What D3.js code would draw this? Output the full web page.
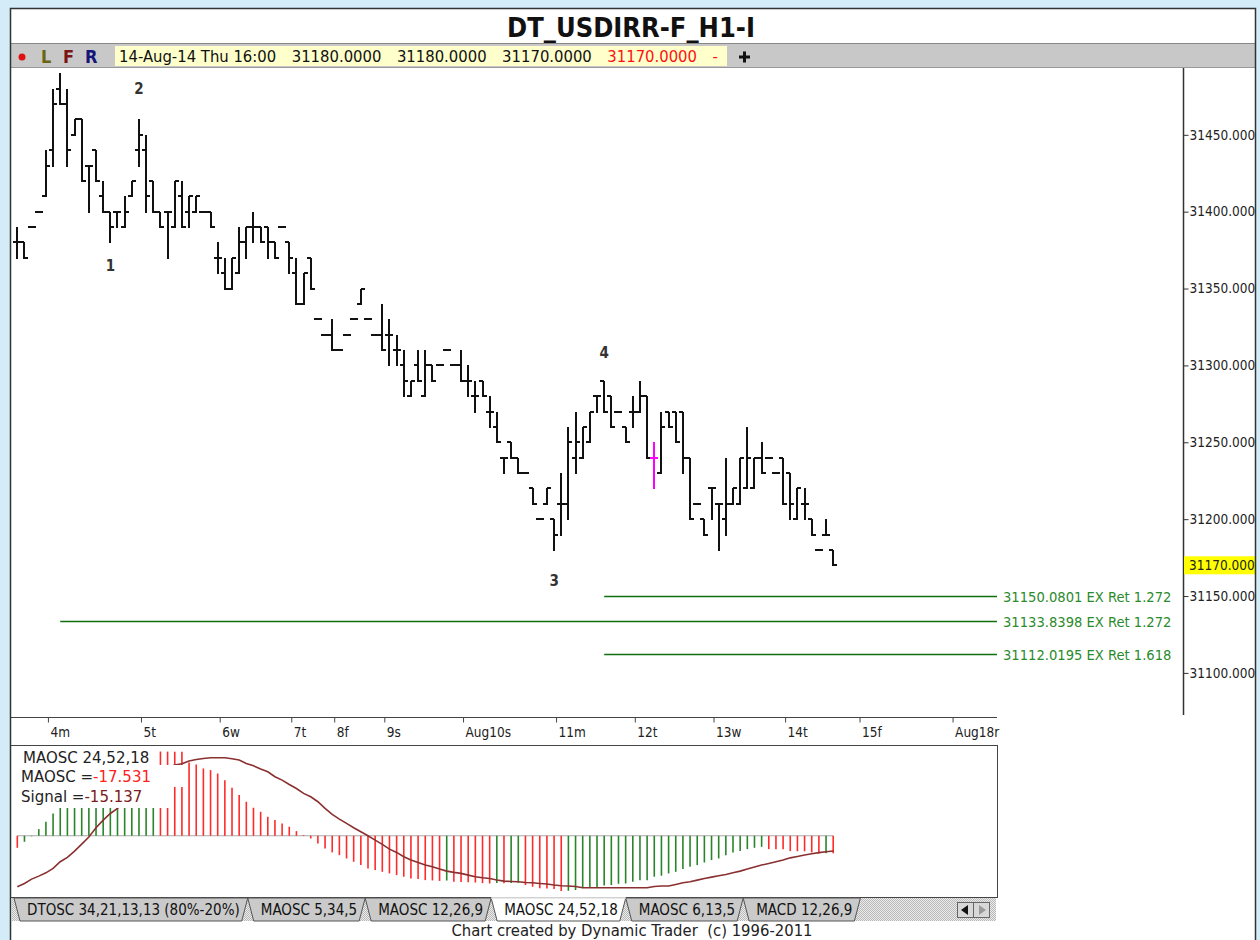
<!DOCTYPE html>
<html>
<head>
<meta charset="utf-8">
<script src="https://cdn.jsdelivr.net/npm/d3@7"></script>
<style>
  html, body { margin: 0; padding: 0; background: #d3ecf8; }
  svg { display: block; }
</style>
</head>
<body>
<div id="chart"></div>
<script>
// hourly bars, 4-Aug to 14-Aug (index = bar number)
const opens = [31380,31380,31390,31400,31410,31440,31480,31470,31450,31460,
  31430,31440,31410,31400,31400,31390,31410,31440,31440,31420,
  31400,31400,31390,31410,31400,31400,31400,31400,31370,31360,
  31350,31360,31380,31390,31390,31390,31380,31390,31380,31360,
  31340,31370,31330,31320,31320,31310,31320,31330,31340,31330,
  31320,31320,31320,31310,31300,31280,31300,31280,31300,31300,
  31310,31300,31300,31290,31280,31290,31270,31260,31240,31250,
  31240,31230,31220,31200,31210,31200,31210,31210,31240,31240,
  31250,31280,31290,31280,31270,31260,31270,31270,31280,31240,
  31230,31270,31270,31270,31240,31210,31200,31220,31210,31200,
  31210,31210,31220,31220,31240,31240,31230,31240,31230,31200,
  31210,31200,31180,31190,31180]
const highs = [31390,31380,31390,31400,31440,31480,31490,31480,31460,31460,
  31430,31440,31420,31400,31400,31410,31420,31460,31450,31420,
  31400,31400,31420,31420,31410,31410,31400,31400,31380,31370,
  31370,31390,31390,31400,31390,31390,31380,31390,31380,31370,
  31360,31370,31330,31320,31330,31310,31320,31330,31350,31330,
  31320,31340,31330,31320,31310,31290,31310,31310,31300,31300,
  31310,31300,31310,31300,31290,31290,31280,31270,31240,31250,
  31240,31230,31220,31200,31220,31200,31230,31260,31270,31260,
  31270,31280,31290,31280,31270,31260,31280,31290,31280,31250,
  31270,31270,31270,31270,31240,31210,31200,31220,31210,31240,
  31220,31240,31260,31240,31250,31240,31230,31240,31230,31220,
  31220,31200,31180,31200,31180]
const lows = [31370,31370,31390,31400,31410,31430,31470,31430,31450,31420,
  31400,31420,31400,31380,31390,31390,31410,31430,31400,31400,
  31390,31370,31390,31390,31390,31400,31400,31390,31360,31350,
  31350,31360,31370,31380,31380,31370,31370,31390,31360,31340,
  31340,31350,31330,31320,31310,31310,31320,31330,31340,31330,
  31320,31310,31300,31300,31280,31280,31290,31280,31290,31300,
  31310,31300,31290,31280,31270,31280,31260,31250,31230,31240,
  31230,31230,31210,31200,31210,31180,31190,31200,31230,31240,
  31250,31270,31270,31260,31270,31250,31260,31270,31240,31220,
  31230,31260,31250,31230,31200,31210,31190,31200,31180,31190,
  31210,31210,31220,31220,31230,31240,31230,31210,31200,31200,
  31200,31190,31180,31190,31170]
const closes = [31380,31370,31390,31400,31430,31470,31470,31440,31460,31420,
  31430,31420,31400,31390,31400,31400,31420,31450,31410,31400,
  31390,31400,31420,31390,31410,31410,31400,31390,31370,31350,
  31370,31380,31390,31390,31380,31380,31370,31390,31370,31340,
  31360,31350,31330,31320,31310,31310,31320,31330,31350,31330,
  31320,31310,31320,31310,31290,31290,31290,31300,31290,31300,
  31310,31300,31290,31290,31280,31280,31270,31250,31240,31240,
  31230,31230,31210,31200,31220,31190,31210,31250,31250,31260,
  31270,31280,31270,31260,31270,31250,31270,31280,31240,31240,
  31260,31260,31250,31240,31200,31210,31190,31220,31210,31210,
  31220,31240,31240,31240,31230,31240,31230,31210,31210,31220,
  31210,31190,31180,31190,31170]
const markedBar = 89

const maosc = [-12.0,-6.0,-0.5,6.6,13.9,22.2,30,35,40,45,
  50,55,60,64,68,72,75,78,81,84.2,
  83.9,83.8,83.7,83.6,73.0,71.0,67.0,65.4,62.0,55.4,
  47.8,40.5,33.9,27.9,23.9,18.9,15.6,12.3,9.0,4.6,
  0.7,-2.7,-7.6,-12.6,-16.6,-19.3,-22.6,-25.9,-29.2,-32.5,
  -34.2,-35.9,-37.5,-39.2,-40.8,-42.5,-43.0,-44.2,-44.5,-45.0,
  -44.6,-45.8,-46.0,-46.2,-46.6,-47.2,-47.5,-47.0,-47.3,-47.0,
  -46.8,-49.1,-50.8,-52.3,-52.6,-53.1,-55.1,-54.8,-54.1,-52.2,
  -52.0,-51.8,-49.5,-49.1,-47.8,-47.5,-45.8,-44.4,-44.2,-40.8,
  -39.8,-37.5,-35.9,-33.2,-30.9,-29.2,-26.6,-24.2,-22.6,-19.3,
  -16.6,-15.3,-13.3,-12.0,-11.0,-13.3,-13.4,-13.5,-15.3,-15.4,
  -15.5,-16.6,-17.6,-17.4,-17.531]
const signal = [-50.8,-47.5,-43.2,-40.2,-36.9,-32.5,-25.9,-21.6,-15.3,-8.3,
  -1.3,8.0,15.6,22.2,27.2,33.9,40.5,47.1,53.1,58.8,
  63.7,67.7,70.4,71.7,74.4,76.0,77.0,77.7,77.7,77.7,
  76.7,75.4,72.0,69.7,66.4,63.7,58.8,55.4,51.1,47.1,
  42.2,38.8,33.9,27.2,21.2,16.6,12.3,8.0,4.0,0,
  -4.3,-8.6,-13.3,-16.6,-20.9,-24.2,-26.6,-29.2,-30.9,-33.2,
  -35.2,-36.5,-37.5,-39.2,-40.8,-41.8,-42.5,-44.0,-45.2,-45.5,
  -45.8,-46.5,-46.8,-47.5,-48.1,-49.1,-49.8,-50.1,-50.5,-51.8,
  -51.8,-51.8,-51.8,-51.8,-51.8,-51.8,-51.8,-51.8,-51.8,-50.5,
  -50.1,-50.1,-48.5,-46.8,-45.8,-44.2,-42.5,-41.2,-39.8,-38.5,
  -36.9,-35.2,-33.2,-31.2,-29.2,-27.6,-25.9,-24.2,-22.0,-20.6,
  -19.2,-17.9,-16.8,-15.9,-15.137]

const priceTicks = [31100, 31150, 31200, 31250, 31300, 31350, 31400, 31450]
const dayTicks = [4, 17, 28, 38, 44, 51, 62, 75, 86, 97, 107, 117.4, 130.4]
const dayLabels = ["4m", "5t", "6w", "7t", "8f", "9s", "Aug10s", "11m", "12t", "13w", "14t", "15f", "Aug18r"]

const exLevels = [31150.0801, 31133.8398, 31112.0195]
const exRatios = ["1.272", "1.272", "1.618"]
const exFromBar = [82, 6, 82]

const waveNames = ["1", "2", "3", "4"]
const waveBars = [13, 17, 75, 82]
const wavePrices = [31365, 31480, 31160, 31308]

const tabNames = ["DTOSC 34,21,13,13 (80%-20%)", "MAOSC 5,34,5", "MAOSC 12,26,9", "MAOSC 24,52,18", "MAOSC 6,13,5", "MACD 12,26,9"]
const activeTab = 3

document.addEventListener("DOMContentLoaded", () => {
  const width = 1260, height = 940
  const COND = "'DejaVu Sans Condensed', 'DejaVu Sans', sans-serif"
  const winL = 10, winR = 1255, winT = 8
  const plotTop = 68, plotBottom = 715, axisX = 1183
  const timeY = 717, oscTop = 745, oscBottom = 897, oscRight = 997
  const exLineEnd = 997

  const svg = d3.select("#chart").append("svg")
                .attr("width", width)
                .attr("height", height)
                .style("font-family", COND)

  // frame
  svg.append("rect").attr("width", width).attr("height", height).attr("fill", "#d3ecf8")
  svg.append("rect").attr("x", winL).attr("y", winT).attr("width", winR - winL).attr("height", height - winT).attr("fill", "#fff")

  // toolbar
  svg.append("rect").attr("x", winL).attr("y", 43).attr("width", winR - winL).attr("height", 24).attr("fill", "#c8c8c8")
  svg.append("line").attr("x1", winL).attr("x2", winR).attr("y1", 43.5).attr("y2", 43.5).attr("stroke", "#888")
  svg.append("line").attr("x1", winL).attr("x2", winR).attr("y1", 67.5).attr("y2", 67.5).attr("stroke", "#999")
  svg.append("circle").attr("cx", 22).attr("cy", 57).attr("r", 3.5).attr("fill", "#e01010")
  const lfr = [["L", 41, "#6b6410"], ["F", 63, "#7a1515"], ["R", 85, "#15157a"]]
  lfr.forEach(([t, xx, col]) => {
    svg.append("text").attr("x", xx).attr("y", 63).attr("font-size", 18).attr("font-weight", "bold").attr("fill", col).text(t)
  })
  svg.append("rect").attr("x", 115).attr("y", 46).attr("width", 612).attr("height", 20).attr("fill", "#ffffcc")
  const last = opens.length - 1
  const quote = [
    ["14-Aug-14 Thu 16:00", "#111"],
    [opens[last].toFixed(4), "#111"],
    [highs[last].toFixed(4), "#111"],
    [lows[last].toFixed(4), "#111"],
    [closes[last].toFixed(4), "#ff1010"],
    ["-", "#ff1010"]
  ]
  let qx = 119
  quote.forEach(([t, col]) => {
    const tx = svg.append("text").attr("x", qx).attr("y", 62).attr("font-size", 16.5).attr("fill", col).text(t)
    qx += tx.node().getComputedTextLength() + 15.5
  })
  svg.append("rect").attr("x", 743).attr("y", 51.5).attr("width", 3).attr("height", 11).attr("fill", "#111")
  svg.append("rect").attr("x", 739).attr("y", 55.5).attr("width", 11).attr("height", 3).attr("fill", "#111")

  // title
  svg.append("text").attr("x", 631).attr("y", 36.5).attr("text-anchor", "middle")
     .attr("font-size", 27).attr("font-weight", "bold").attr("fill", "#111")
     .text("DT_USDIRR-F_H1-I")

  // scales
  const x = d3.scaleLinear().domain([0, opens.length - 1]).range([17.3, 833.2])
  const y = d3.scaleLinear().domain([31100, 31450]).range([672.9, 134.8])
  const oy = d3.scaleLinear().domain([-60, 90]).range([896, 745.4])

  // ex lines
  const exG = svg.append("g")
  exLevels.forEach((lv, k) => {
    const yy = Math.round(y(lv)) + 0.5
    exG.append("line").attr("x1", x(exFromBar[k])).attr("x2", exLineEnd).attr("y1", yy).attr("y2", yy)
       .attr("stroke", "#107010").attr("stroke-width", 1.6)
    exG.append("text").attr("x", exLineEnd + 6).attr("y", yy).attr("dy", "0.35em")
       .attr("font-size", 14.6).attr("fill", "#2b8a2b")
       .text(lv.toFixed(4) + " EX Ret " + exRatios[k])
  })

  // OHLC bars
  const bars = d3.range(opens.length).map(i => ({ i, o: opens[i], h: highs[i], l: lows[i], c: closes[i] }))
  const barG = svg.append("g").attr("shape-rendering", "crispEdges")
  barG.selectAll("g").data(bars).join("g")
      .each(function (d) {
        const g = d3.select(this)
        const col = d.i === markedBar ? "#ff00ff" : "#111"
        const cx = Math.round(x(d.i))
        const yh = Math.round(y(d.h)), yl = Math.round(y(d.l))
        if (yl > yh) g.append("rect").attr("x", cx - 1).attr("y", yh).attr("width", 2).attr("height", yl - yh + 1).attr("fill", col)
        g.append("rect").attr("x", cx - 4).attr("y", Math.round(y(d.o)) - 1).attr("width", 4).attr("height", 2).attr("fill", col)
        g.append("rect").attr("x", cx).attr("y", Math.round(y(d.c)) - 1).attr("width", 4).attr("height", 2).attr("fill", col)
      })

  // wave labels
  waveNames.forEach((n, k) => {
    svg.append("text").attr("x", x(waveBars[k])).attr("y", y(wavePrices[k])).attr("dy", "0.35em")
       .attr("text-anchor", "middle").attr("font-size", 15).attr("font-weight", "bold").attr("fill", "#333")
       .text(n)
  })

  // price axis
  svg.append("line").attr("x1", axisX + 0.5).attr("x2", axisX + 0.5).attr("y1", plotTop).attr("y2", plotBottom).attr("stroke", "#333").attr("stroke-width", 1.5)
  svg.append("clipPath").attr("id", "axclip").append("rect").attr("x", axisX).attr("y", plotTop).attr("width", winR - axisX).attr("height", plotBottom - plotTop)
  const gy = svg.append("g").attr("clip-path", "url(#axclip)").append("g")
                .attr("transform", "translate(" + (axisX + 0.5) + ",0)")
                .call(d3.axisRight(y).tickValues(priceTicks).tickFormat(d => d.toFixed(3)).tickSize(5).tickPadding(1))
  gy.select(".domain").remove()
  gy.selectAll("line").attr("stroke", "#333")
  gy.selectAll("text").attr("font-family", COND).attr("font-size", 13.5).attr("fill", "#222")
  const lastY = y(closes[last])
  const hl = svg.append("g").attr("clip-path", "url(#axclip)")
  hl.append("rect").attr("x", axisX + 1).attr("y", lastY - 9).attr("width", winR - axisX).attr("height", 18).attr("fill", "#ffff00")
  hl.append("text").attr("x", axisX + 6).attr("y", lastY).attr("dy", "0.35em").attr("font-size", 13.5).attr("fill", "#222")
    .text(closes[last].toFixed(3))

  // time axis
  svg.append("line").attr("x1", winL).attr("x2", oscRight).attr("y1", timeY + 0.5).attr("y2", timeY + 0.5).attr("stroke", "#444")
  const gx = svg.append("g").attr("transform", "translate(2," + (timeY + 0.5) + ")")
                .call(d3.axisBottom(x).tickValues(dayTicks).tickFormat((d, i) => dayLabels[i]).tickSize(5).tickPadding(5))
  gx.select(".domain").remove()
  gx.selectAll("line").attr("stroke", "#444")
  gx.selectAll("text").attr("font-family", COND).attr("font-size", 13.5).attr("fill", "#222").attr("text-anchor", "start").attr("x", 2)

  // oscillator panel
  svg.append("rect").attr("x", winL + 0.5).attr("y", oscTop + 0.5).attr("width", oscRight - winL).attr("height", oscBottom - oscTop)
     .attr("fill", "#fff").attr("stroke", "#444")
  svg.append("clipPath").attr("id", "oscclip").append("rect").attr("x", winL + 1).attr("y", oscTop + 1).attr("width", oscRight - winL - 1).attr("height", oscBottom - oscTop - 1)
  const og = svg.append("g").attr("clip-path", "url(#oscclip)")
  og.append("line").attr("x1", x(0)).attr("x2", x(last)).attr("y1", oy(0)).attr("y2", oy(0)).attr("stroke", "#a8a8a8")
  og.selectAll("line.h").data(maosc).join("line").attr("class", "h")
    .attr("x1", (d, i) => x(i)).attr("x2", (d, i) => x(i))
    .attr("y1", oy(0)).attr("y2", d => oy(d))
    .attr("stroke", (d, i) => i > 0 && d > maosc[i - 1] ? "#2a852a" : "#ff2a2a")
    .attr("stroke-width", 1.6)
  og.append("path").datum(signal)
    .attr("d", d3.line().x((d, i) => x(i)).y(d => oy(d)))
    .attr("fill", "none").attr("stroke", "#8a3030").attr("stroke-width", 1.6)

  // legend boxes
  const boxes = [[12, 748, 145, 17], [12, 765, 173, 22], [12, 787, 159, 21]]
  boxes.forEach(b => og.append("rect").attr("x", b[0]).attr("y", b[1]).attr("width", b[2]).attr("height", b[3]).attr("fill", "#fff"))
  const legend = [
    [23, 758, [["MAOSC 24,52,18", "#222"]]],
    [21, 777, [["MAOSC =", "#222"], [maosc[last].toFixed(3), "#ff2020"]]],
    [21, 797, [["Signal =", "#222"], [signal[last].toFixed(3), "#7a2020"]]]
  ]
  legend.forEach(([lx, ly, parts]) => {
    const t = og.append("text").attr("x", lx).attr("y", ly).attr("dy", "0.35em").attr("font-family", "'DejaVu Sans', sans-serif").attr("font-size", 15)
    parts.forEach(([s, col]) => t.append("tspan").attr("fill", col).text(s))
  })

  // tabs strip
  const defs = svg.append("defs")
  const pat = defs.append("pattern").attr("id", "hatch").attr("width", 2).attr("height", 2).attr("patternUnits", "userSpaceOnUse")
  pat.append("rect").attr("width", 2).attr("height", 2).attr("fill", "#ececec")
  pat.append("rect").attr("width", 1).attr("height", 1).attr("fill", "#b8b8b8")
  pat.append("rect").attr("x", 1).attr("y", 1).attr("width", 1).attr("height", 1).attr("fill", "#b8b8b8")
  const tabTop = 898, tabBot = 921
  svg.append("rect").attr("x", 12).attr("y", tabTop).attr("width", 984).attr("height", tabBot - tabTop).attr("fill", "url(#hatch)")
  const tabG = svg.append("g")
  const tabSpecs = []
  let tx0 = 14
  tabNames.forEach(n => {
    const tmp = tabG.append("text").attr("font-size", 15).text(n)
    const w = tmp.node().getComputedTextLength()
    tmp.remove()
    tabSpecs.push({ n, x0: tx0, x1: tx0 + w + 21 })
    tx0 = tx0 + w + 21
  })
  const order = tabSpecs.map((t, k) => k).filter(k => k !== activeTab).reverse().concat([activeTab])
  order.forEach(k => {
    const t = tabSpecs[k]
    tabG.append("polygon")
        .attr("points", [[t.x0, tabTop], [t.x1, tabTop], [t.x1 - 6, tabBot], [t.x0 + 6, tabBot]].join(" "))
        .attr("fill", k === activeTab ? "#fff" : "#cacaca").attr("stroke", "#555")
    tabG.append("text").attr("x", t.x0 + 13).attr("y", 915).attr("font-size", 15).attr("fill", "#111").text(t.n)
  })
  svg.append("line").attr("x1", tabSpecs[activeTab].x0).attr("x2", tabSpecs[activeTab].x1).attr("y1", tabTop).attr("y2", tabTop).attr("stroke", "#fff").attr("stroke-width", 1.5)
  // scroll buttons
  svg.append("rect").attr("x", 957.5).attr("y", 902.5).attr("width", 16).attr("height", 15).attr("fill", "#d8d8d8").attr("stroke", "#666")
  svg.append("rect").attr("x", 973.5).attr("y", 902.5).attr("width", 16).attr("height", 15).attr("fill", "#d8d8d8").attr("stroke", "#666")
  svg.append("polygon").attr("points", "961,910 968,905 968,915").attr("fill", "#111")
  svg.append("polygon").attr("points", "986,910 979,905 979,915").attr("fill", "#9a9a9a")

  // footer
  svg.append("text").attr("x", 632).attr("y", 935.5).attr("text-anchor", "middle").attr("font-size", 16.5).attr("fill", "#222")
     .style("white-space", "pre")
     .text("Chart created by Dynamic Trader  (c) 1996-2011")

  // window borders
  svg.append("path").attr("d", `M${winL + 0.5},${height}V${winT + 0.5}H${winR + 0.5}V${height}`)
     .attr("fill", "none").attr("stroke", "#333").attr("stroke-width", 1.5)
})
</script>
</body>
</html>
